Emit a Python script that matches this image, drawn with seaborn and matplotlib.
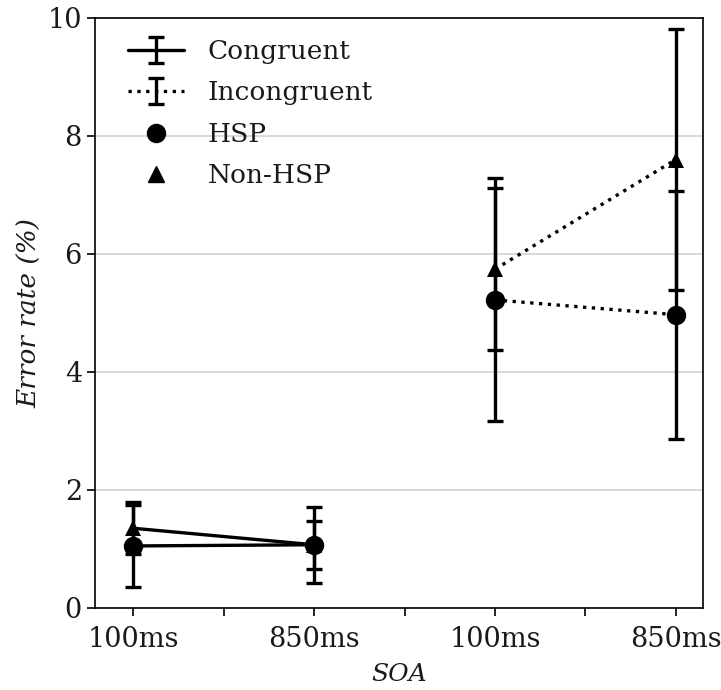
import numpy as np
import pandas as pd
import matplotlib
matplotlib.use("Agg")
import matplotlib.pyplot as plt
from matplotlib.lines import Line2D
import seaborn as sns

# ---- data ----
conditions = ["Congruent", "Incongruent"]
groups = ["HSP", "Non-HSP"]
soas = ["100ms", "850ms"]

# mean error rate (%) per condition x SOA
hsp_rate = [1.05, 1.07, 5.22, 4.97]
hsp_err = [0.70, 0.64, 2.06, 2.10]
nonhsp_rate = [1.35, 1.07, 5.74, 7.60]
nonhsp_err = [0.44, 0.41, 1.37, 2.22]

tick_labels = ["100ms", "850ms", "100ms", "850ms"]

rows = []
for g, rates, errs in [("HSP", hsp_rate, hsp_err),
                       ("Non-HSP", nonhsp_rate, nonhsp_err)]:
    for ci, c in enumerate(conditions):
        for si, s in enumerate(soas):
            k = ci * len(soas) + si
            rows.append(dict(group=g, condition=c, soa=s, pos=k,
                             rate=rates[k], err=errs[k]))
df = pd.DataFrame(rows)

sns.set_theme(style="white")
plt.rcParams["font.family"] = ["DejaVu Serif"]

fig = plt.figure(figsize=(7.21, 6.90), dpi=100)
ax = fig.add_axes([0.132, 0.119, 0.843, 0.855])

markers = {"HSP": "o", "Non-HSP": "^"}
msizes = {"HSP": 14, "Non-HSP": 12}
lstyles = {"Congruent": "-", "Incongruent": ":"}
LW = 2.4
TXT = "#1a1a1a"

for (g, c), sub in df.groupby(["group", "condition"]):
    ax.errorbar(sub["pos"], sub["rate"], yerr=sub["err"], fmt="none",
                ecolor="black", elinewidth=LW, capsize=6, capthick=LW, zorder=3)
    sns.lineplot(data=sub, x="pos", y="rate", ax=ax, color="black",
                 linestyle=lstyles[c], linewidth=LW, marker=markers[g],
                 markersize=msizes[g], markeredgewidth=0,
                 errorbar=None, zorder=4, legend=False)

ax.set_xlim(-0.21, 3.15)
ax.set_ylim(0, 10)
ax.set_xticks(range(len(tick_labels)))
ax.set_xticklabels(tick_labels)
ax.set_xticks([0.5, 1.5, 2.5], minor=True)
ax.set_yticks([0, 2, 4, 6, 8, 10])
ax.yaxis.grid(True, color="#d3d3d3", linewidth=1.2)
ax.xaxis.grid(False)
ax.set_axisbelow(True)
for sp in ax.spines.values():
    sp.set_color("black")
    sp.set_linewidth(1.2)
ax.tick_params(axis="both", which="both", direction="out", length=6, width=1.2,
               color="black", labelsize=19.5, labelcolor=TXT,
               bottom=True, left=True)
ax.tick_params(axis="x", which="both", pad=7)

ax.set_xlabel("SOA", fontsize=18, style="italic", color=TXT, labelpad=7)
ax.set_ylabel("Error rate (%)", fontsize=19, style="italic", color=TXT,
              labelpad=4)

# legend proxies
h_con = ax.errorbar([np.nan], [np.nan], yerr=[np.nan], color="black",
                    linestyle="-", linewidth=LW, capsize=6, capthick=LW)
h_inc = ax.errorbar([np.nan], [np.nan], yerr=[np.nan], color="black",
                    linestyle=":", linewidth=LW, capsize=6, capthick=LW)
h_hsp = Line2D([], [], color="black", marker="o", linestyle="none", markersize=13)
h_non = Line2D([], [], color="black", marker="^", linestyle="none", markersize=12)
ax.legend([h_con, h_inc, h_hsp, h_non], ["Congruent", "Incongruent", "HSP", "Non-HSP"],
          loc="upper left", bbox_to_anchor=(0.037, 0.982), frameon=False,
          fontsize=19, labelspacing=0.62, handlelength=2.1, borderaxespad=0,
          handletextpad=0.9, labelcolor=TXT)

fig.savefig("out.png", dpi=100)
